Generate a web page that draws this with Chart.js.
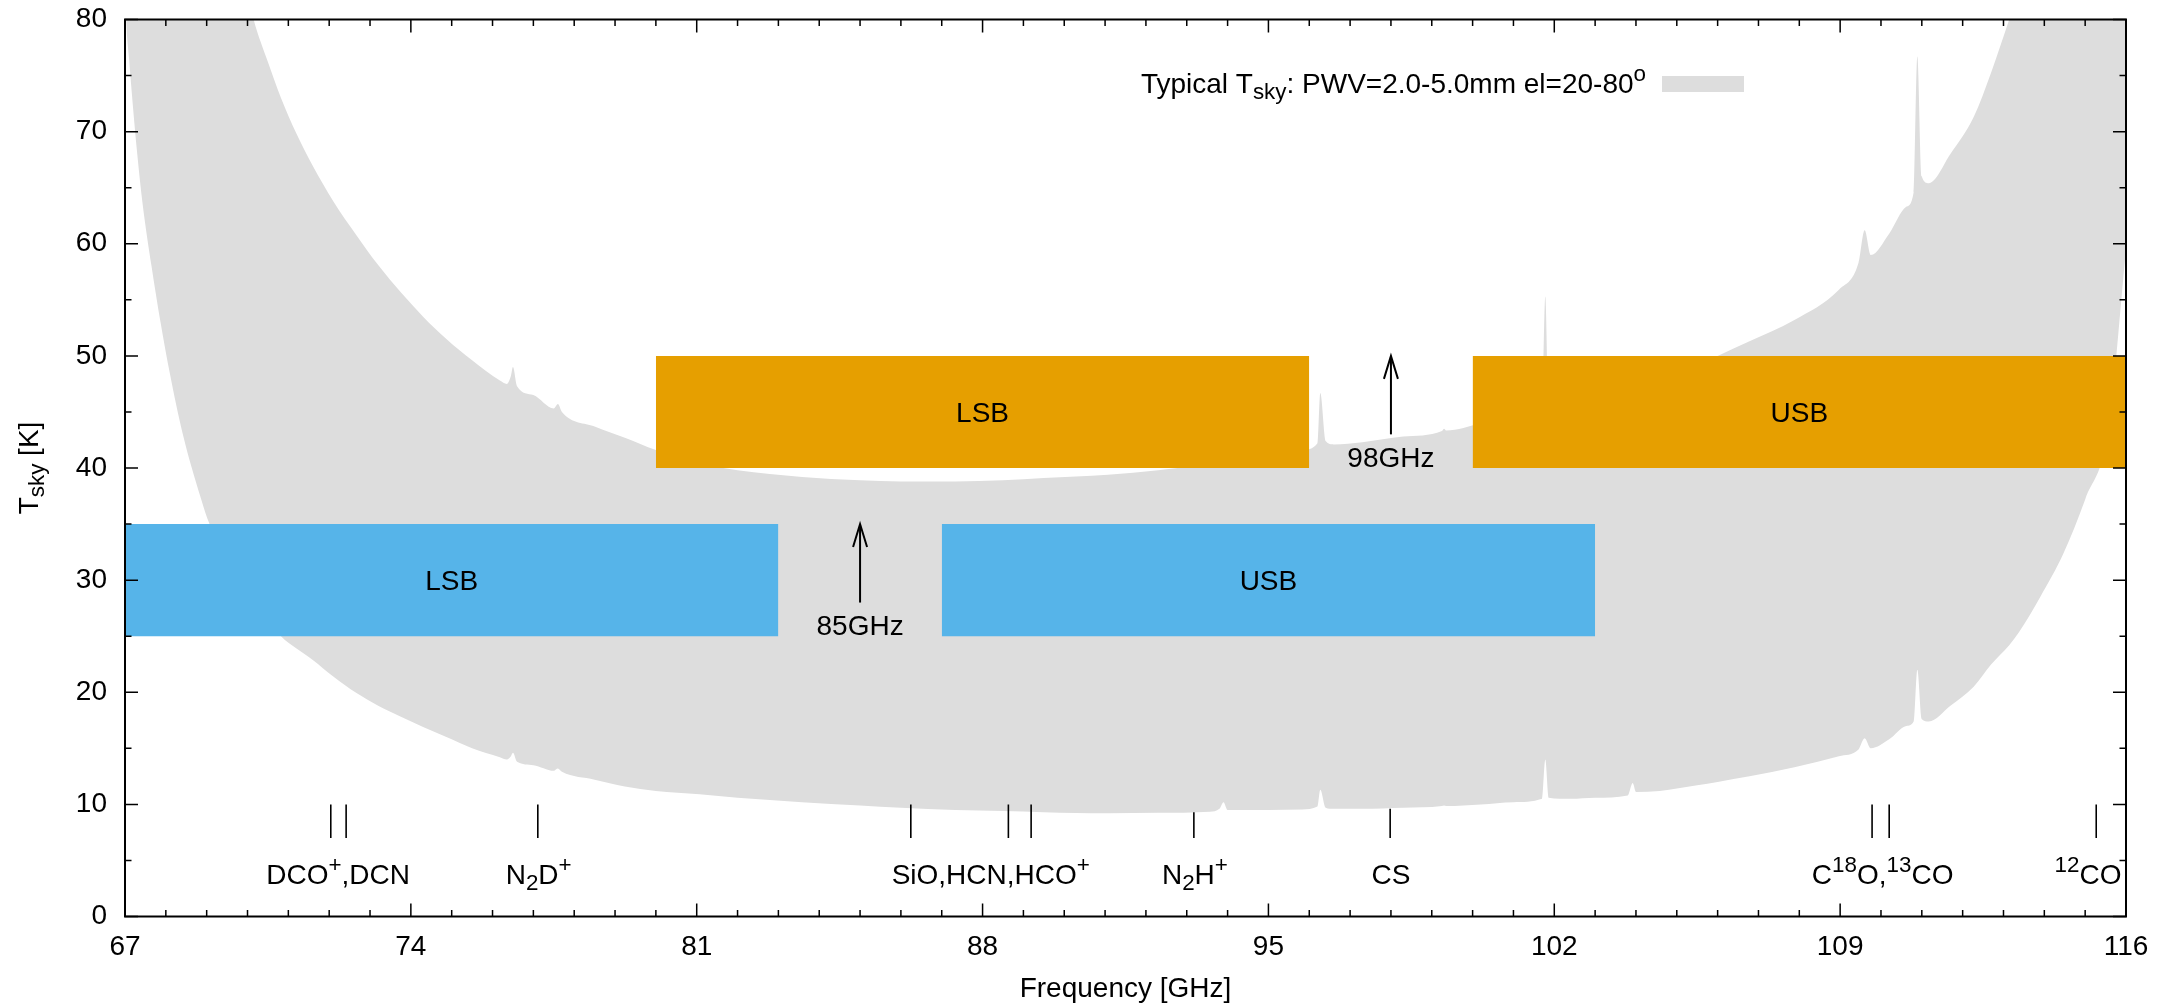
<!DOCTYPE html>
<html>
<head>
<meta charset="utf-8">
<script src="https://cdn.jsdelivr.net/npm/chart.js@4.4.1/dist/chart.umd.min.js"></script>
<style>
html,body{margin:0;padding:0;background:#fff;}
#wrap{width:2183px;height:1007px;position:relative;}
</style>
</head>
<body>
<div id="wrap"><canvas id="c"></canvas></div>
<script>
// ---------------- data ----------------
const freqGrid = [67.0,67.03,67.1,67.2,67.3,67.43,67.65,67.87,68.1,68.41,68.85,69.07,69.5,69.6,70.15,70.5,70.82,71.2,71.59,72.1,72.68,73.2,73.77,74.3,74.87,75.5,76.18,76.35,76.45,76.5,76.6,77.0,77.5,77.6,77.7,78.5,79.24,80.0,81.07,82,83.58,85,86,87.33,88.5,89.5,91.07,92.3,93.57,93.8,93.9,94.0,95.0,95.83,96.2,96.27,96.4,96.6,97.3,98.3,99.25,99.3,99.35,100.2,101.0,101.7,101.78,101.86,102.4,103.0,103.8,103.92,104.0,104.58,105.5,106.0,106.78,107.88,108.97,109.45,109.6,109.75,110.2,110.62,110.8,110.89,111.0,111.17,111.7,112.27,112.7,113.14,113.37,113.9,114.47,115.0,115.57,116.0];
// Tsky, PWV=5.0mm el=20deg (upper edge of the band)
const tskyUpper = [170,168,165,160,156,151,143,136,128,119,107,101,91,89,80,76.2,73.0,69.8,67.0,63.8,60.7,58.1,55.6,53.5,51.5,49.6,47.8,47.5,48.2,49.0,47.3,46.5,45.3,45.7,45.0,43.7,42.7,41.6,40.4,39.8,39.2,38.9,38.8,38.8,38.9,39.1,39.4,39.8,40.3,40.4,41.2,40.5,41.0,41.6,42.2,46.7,42.4,42.1,42.3,42.8,43.3,43.5,43.35,44.0,44.8,45.5,55.3,45.7,46.1,46.6,47.3,48.4,47.5,48.1,49.2,50.0,51.3,53.2,55.9,58.3,61.2,59.0,60.9,63.3,64.6,76.7,66.0,65.4,68.0,71.3,75.3,80.0,82.5,89,97,105,115,125];
// Tsky, PWV=2.0mm el=80deg (lower edge of the band)
const tskyLower = [84,80,76.5,72.0,68.0,63.6,58.0,53.0,48.4,43.1,37.4,35.0,32.0,31.4,28.3,26.5,25.0,23.9,22.9,21.4,19.9,18.8,17.8,16.9,16.0,15.0,14.2,14.0,14.3,14.6,13.8,13.5,13.0,13.2,12.9,12.2,11.6,11.2,10.9,10.6,10.2,9.9,9.7,9.5,9.4,9.3,9.2,9.25,9.35,9.6,10.2,9.5,9.5,9.55,9.8,11.3,9.7,9.6,9.6,9.7,9.85,9.9,9.85,10.0,10.2,10.5,14.0,10.6,10.5,10.6,10.8,11.9,11.1,11.2,11.7,12.0,12.5,13.3,14.3,14.9,15.9,15.0,15.8,17.0,17.4,22.0,17.6,17.4,18.8,20.5,22.5,24.2,25.3,28.5,32.4,37.2,43.5,59.5];

const loFreqs = [85, 98];
const loLabels = ['85GHz', '98GHz'];
const lsbRanges = [[67, 83], [80, 96]];
const usbRanges = [[87, 103], [100, 116]];
const bandTsky = [[25, 35], [40, 50]];
const loArrowTsky = [[28, 35], [43, 50]];
const loLabelTsky = [26, 41];
const bandColors = ['#56B4E9', '#E69F00'];

const lineFreqs = [72.039, 72.415, 77.109, 86.243, 88.632, 89.189, 93.174, 97.981, 109.782, 110.201, 115.271];
const lineMarkTop = [10, 10, 10, 10, 10, 10, 9.3, 9.6, 10, 10, 10];
const lineMarkBottom = 7;
const lineLabels = ['DCO^+,DCN', 'N_2D^+', 'SiO,HCN,HCO^+', 'N_2H^+', 'CS', 'C^{18}O,^{13}CO', '^{12}CO'];
const lineLabelFreqs = [72.22, 77.13, 88.2, 93.2, 98.0, 110.04, 115.07];
const lineLabelTsky = 3.8;

const xMin = 67, xMax = 116, xStep = 7, xMinor = 1;
const yMin = 0, yMax = 80, yStep = 10, yMinor = 5;
const legendText = 'Typical T_{sky}: PWV=2.0-5.0mm el=20-80^o';
const xTitle = 'Frequency [GHz]';
const yTitle = 'T_{sky} [K]';

// ---------------- rendering ----------------
const FONT = "'Liberation Sans', Arial, Helvetica, sans-serif";
const FS = 28;
const GRAY = '#dddddd';

function parseRich(s) {
  const out = []; let i = 0; let buf = '';
  const flush = () => { if (buf) { out.push({ t: buf, m: 0 }); buf = ''; } };
  while (i < s.length) {
    const c = s[i];
    if (c === '^' || c === '_') {
      flush();
      const m = c === '^' ? 1 : -1; i++;
      let t;
      if (s[i] === '{') { const j = s.indexOf('}', i); t = s.slice(i + 1, j); i = j + 1; }
      else { t = s[i]; i++; }
      out.push({ t, m });
    } else { buf += c; i++; }
  }
  flush();
  return out;
}
function segFont(m, size) { return (m === 0 ? size : size * 0.8) + 'px ' + FONT; }
function richWidth(ctx, segs, size) {
  let w = 0;
  for (const s of segs) { ctx.font = segFont(s.m, size); w += ctx.measureText(s.t).width; }
  return w;
}
function drawRich(ctx, str, x, baseline, size, align) {
  const segs = parseRich(str);
  const w = richWidth(ctx, segs, size);
  let cx = align === 'center' ? x - w / 2 : (align === 'right' ? x - w : x);
  ctx.textAlign = 'left';
  ctx.textBaseline = 'alphabetic';
  for (const s of segs) {
    ctx.font = segFont(s.m, size);
    let dy = 0;
    if (s.m === 1) dy = -size * 0.42;
    if (s.m === -1) dy = size * 0.22;
    ctx.fillText(s.t, cx, baseline + dy);
    cx += ctx.measureText(s.t).width;
  }
  return w;
}
const CAPHALF = FS * 0.716 / 2;

function buildGrayPoints(vals) { return freqGrid.map((f, i) => ({ x: f, y: vals[i] })); }

const datasets = [];
// molecular line markers
const markerPts = [];
lineFreqs.forEach((f, i) => {
  markerPts.push({ x: f, y: lineMarkBottom }, { x: f, y: lineMarkTop[i] }, { x: f, y: null });
});
datasets.push({
  label: 'lines', data: markerPts, borderColor: '#000', borderWidth: 1.6,
  pointRadius: 0, fill: false, spanGaps: false, clip: 0
});
// sideband boxes
for (let k = bandTsky.length - 1; k >= 0; k--) {
  [lsbRanges[k], usbRanges[k]].forEach(r => {
    datasets.push({
      label: 'band', data: [{ x: r[0], y: bandTsky[k][1] }, { x: r[1], y: bandTsky[k][1] }],
      borderColor: 'transparent', borderWidth: 0, backgroundColor: bandColors[k],
      pointRadius: 0, fill: { value: bandTsky[k][0] }, clip: 0
    });
  });
}
// typical Tsky band
datasets.push({
  label: 'upper', data: buildGrayPoints(tskyUpper), borderColor: 'transparent', borderWidth: 0,
  backgroundColor: GRAY, pointRadius: 0, fill: '+1', clip: 0, cubicInterpolationMode: 'monotone'
});
datasets.push({
  label: 'lower', data: buildGrayPoints(tskyLower), borderColor: 'transparent', borderWidth: 0,
  pointRadius: 0, fill: false, clip: 0, cubicInterpolationMode: 'monotone'
});

const decor = {
  id: 'decor',
  afterDatasetsDraw(chart) {
    const ctx = chart.ctx;
    const xs = chart.scales.x, ys = chart.scales.y;
    const a = chart.chartArea;
    ctx.save();
    ctx.fillStyle = '#000';
    ctx.strokeStyle = '#000';
    // LO arrows
    ctx.lineWidth = 2;
    loFreqs.forEach((f, i) => {
      const x = xs.getPixelForValue(f);
      const y0 = ys.getPixelForValue(loArrowTsky[i][0]);
      const y1 = ys.getPixelForValue(loArrowTsky[i][1]);
      ctx.beginPath(); ctx.moveTo(x, y0); ctx.lineTo(x, y1 + 1); ctx.stroke();
      ctx.beginPath(); ctx.moveTo(x - 7, y1 + 23); ctx.lineTo(x, y1); ctx.lineTo(x + 7, y1 + 23); ctx.stroke();
      drawRich(ctx, loLabels[i], x, ys.getPixelForValue(loLabelTsky[i]) + CAPHALF, FS, 'center');
    });
    // sideband labels
    for (let k = 0; k < bandTsky.length; k++) {
      const yc = ys.getPixelForValue((bandTsky[k][0] + bandTsky[k][1]) / 2) + CAPHALF;
      [[lsbRanges[k], 'LSB'], [usbRanges[k], 'USB']].forEach(([r, t]) => {
        const xc = xs.getPixelForValue((r[0] + r[1]) / 2);
        drawRich(ctx, t, xc, yc, FS, 'center');
      });
    }
    // molecular line labels
    lineLabels.forEach((t, i) => {
      drawRich(ctx, t, xs.getPixelForValue(lineLabelFreqs[i]), ys.getPixelForValue(lineLabelTsky) + CAPHALF, FS, 'center');
    });
    // legend
    drawRich(ctx, legendText, 1646, 93, FS, 'right');
    ctx.fillStyle = GRAY;
    ctx.fillRect(1662, 76, 82, 16);
    ctx.fillStyle = '#000';
    // frame
    ctx.lineWidth = 2;
    ctx.strokeRect(a.left, a.top, a.right - a.left, a.bottom - a.top);
    ctx.lineWidth = 1.5;
    ctx.beginPath();
    for (let v = xMin; v <= xMax + 1e-9; v += xMinor) {
      const major = Math.abs(((v - xMin) / xStep) - Math.round((v - xMin) / xStep)) < 1e-6;
      const L = major ? 13 : 6.5;
      const x = xs.getPixelForValue(v);
      ctx.moveTo(x, a.bottom); ctx.lineTo(x, a.bottom - L);
      ctx.moveTo(x, a.top); ctx.lineTo(x, a.top + L);
    }
    for (let v = yMin; v <= yMax + 1e-9; v += yMinor) {
      const major = Math.abs(((v - yMin) / yStep) - Math.round((v - yMin) / yStep)) < 1e-6;
      const L = major ? 13 : 6.5;
      const y = ys.getPixelForValue(v);
      ctx.moveTo(a.left, y); ctx.lineTo(a.left + L, y);
      ctx.moveTo(a.right, y); ctx.lineTo(a.right - L, y);
    }
    ctx.stroke();
    // axis titles
    drawRich(ctx, xTitle, (a.left + a.right) / 2, 997, FS, 'center');
    ctx.save();
    ctx.translate(38, (a.top + a.bottom) / 2);
    ctx.rotate(-Math.PI / 2);
    drawRich(ctx, yTitle, 0, 0, FS, 'center');
    ctx.restore();
    ctx.restore();
  }
};

Chart.defaults.font.family = FONT;
Chart.defaults.font.size = FS;
Chart.defaults.color = '#000';

new Chart(document.getElementById('c'), {
  type: 'line',
  data: { datasets },
  options: {
    responsive: true,
    maintainAspectRatio: false,
    animation: false,
    parsing: true,
    layout: { padding: { left: 0, right: 57, top: 19.5, bottom: 0 } },
    plugins: { legend: { display: false }, tooltip: { enabled: false }, filler: { propagate: false } },
    elements: { line: { tension: 0 } },
    scales: {
      x: {
        type: 'linear', min: xMin, max: xMax,
        ticks: { stepSize: xStep, autoSkip: false, maxRotation: 0, padding: 14, color: '#000', font: { size: FS } },
        grid: { display: false, drawTicks: false },
        border: { display: false },
        afterFit(s) { s.height = 90.5; }
      },
      y: {
        type: 'linear', min: yMin, max: yMax,
        ticks: { stepSize: yStep, autoSkip: false, padding: 18, color: '#000', font: { size: FS, lineHeight: 0.01 } },
        grid: { display: false, drawTicks: false },
        border: { display: false },
        afterFit(s) { s.width = 125; }
      }
    }
  },
  plugins: [decor]
});
</script>
</body>
</html>
